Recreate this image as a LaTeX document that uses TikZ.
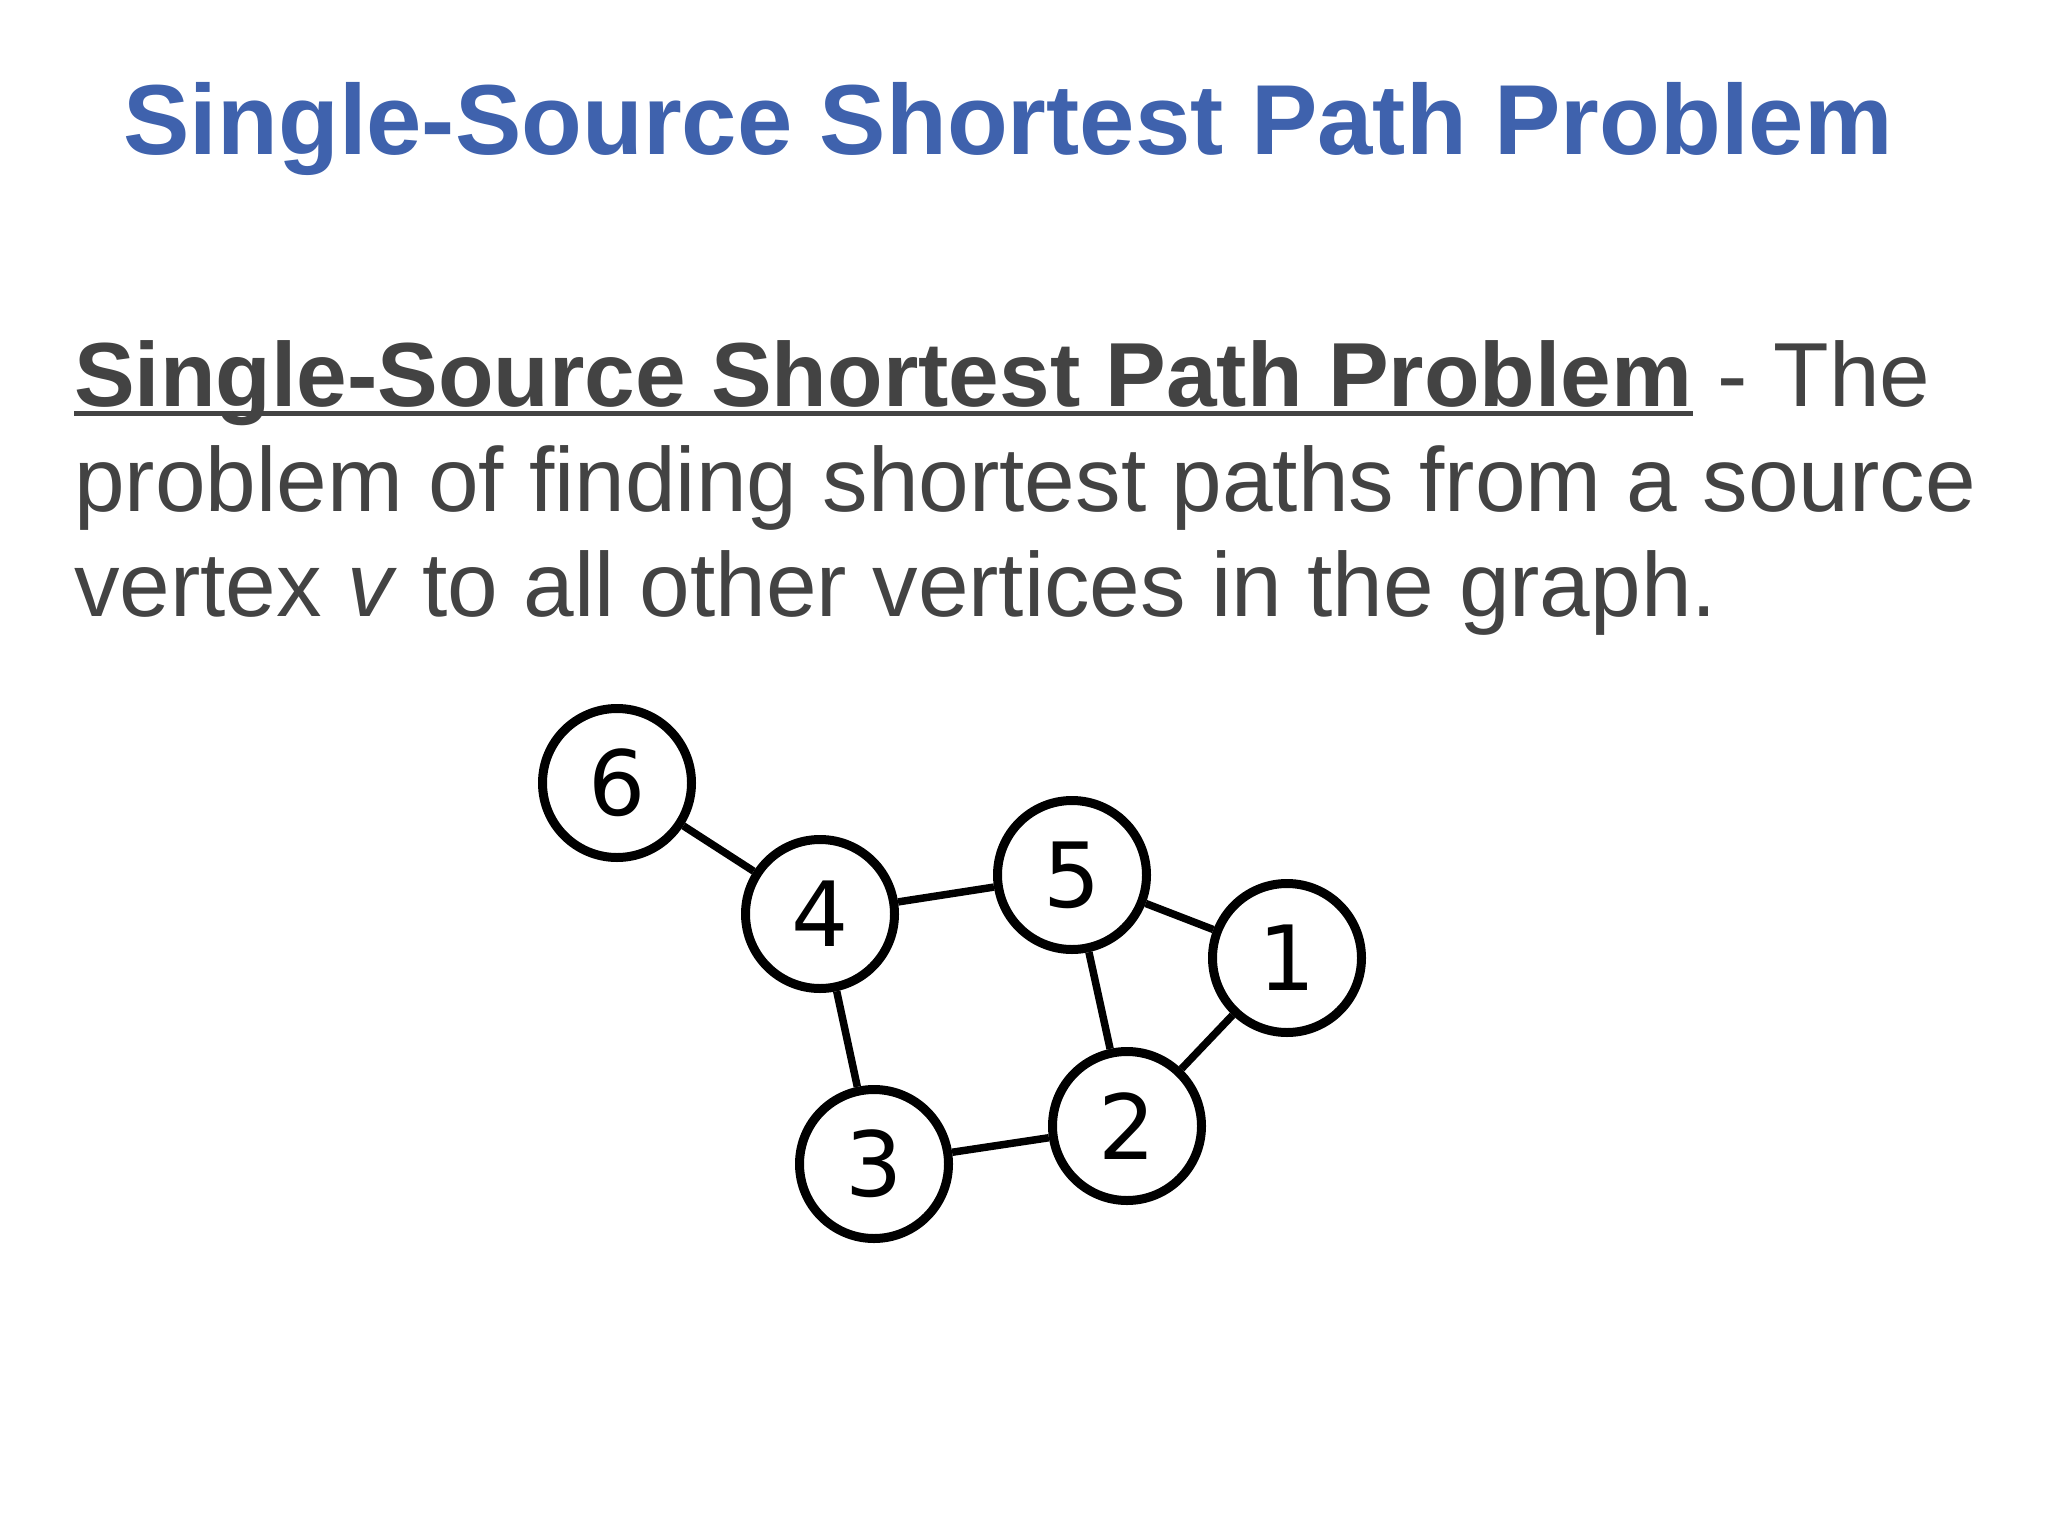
\documentclass[tikz,border=0pt]{standalone}
\usepackage{fontspec}
\setmainfont{Liberation Sans}
\newfontfamily\digitfont{DejaVu Sans}
\definecolor{titleblue}{HTML}{3F62AD}
\definecolor{bodygray}{HTML}{434343}
\tikzset{
  vertex/.style={circle, draw=black, line width=9pt, fill=white, minimum size=149pt, inner sep=0pt, font=\digitfont\fontsize{90}{90}\selectfont},
  edge/.style={line width=7.5pt, black},
  bodytext/.style={anchor=base west, inner sep=0pt, text=bodygray, font=\fontsize{91}{104}\selectfont}
}
\begin{document}
\begin{tikzpicture}[x=1pt,y=-1pt]
\useasboundingbox (0,0) rectangle (2048,1536);
\fill[white] (0,0) rectangle (2048,1536);
\node[anchor=base, inner sep=0pt, text=titleblue, font=\bfseries\fontsize{99.5}{110}\selectfont] (title) at (1008,154) {Single-Source Shortest Path Problem};
\node[bodytext, font=\bfseries\fontsize{91}{104}\selectfont] (bold) at (74,406) {Single-Source Shortest Path Problem};
\node[bodytext, anchor=base west] (dash) at (bold.base east) {\ - The};
\draw[bodygray, line width=5pt] ([yshift=-7pt]bold.base west) -- ([yshift=-7pt]bold.base east);
\node[bodytext] (l2) at (74,511) {problem of finding shortest paths from a source};
\node[bodytext] (l3) at (74,616) {vertex \textit{v} to all other vertices in the graph.};

\node[vertex] (n6) at (617,783) {6};
\node[vertex] (n4) at (820,914) {4};
\node[vertex] (n5) at (1072,875) {5};
\node[vertex] (n1) at (1287,958) {1};
\node[vertex] (n2) at (1127,1126) {2};
\node[vertex] (n3) at (874,1164) {3};
\draw[edge] (n6) -- (n4);
\draw[edge] (n4) -- (n5);
\draw[edge] (n5) -- (n1);
\draw[edge] (n5) -- (n2);
\draw[edge] (n1) -- (n2);
\draw[edge] (n4) -- (n3);
\draw[edge] (n3) -- (n2);
\end{tikzpicture}
\end{document}
